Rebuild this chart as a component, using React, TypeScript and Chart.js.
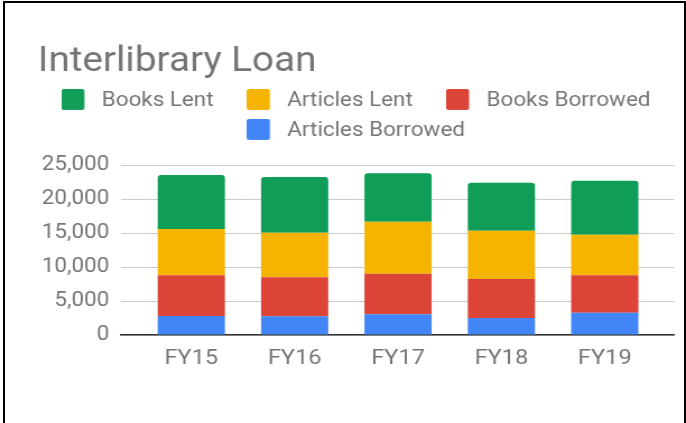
import React, { useEffect, useRef } from 'react';
import { Chart, registerables } from 'chart.js';

Chart.register(...registerables);

const categories = ['FY15', 'FY16', 'FY17', 'FY18', 'FY19'];
const articlesBorrowed = [2800, 2750, 3040, 2500, 3280];
const booksBorrowed = [5980, 5730, 5980, 5735, 5500];
const articlesLent = [6810, 6560, 7650, 7105, 5970];
const booksLent = [7940, 8190, 7110, 7060, 7940];
const yTickValues = [0, 5000, 10000, 15000, 20000, 25000];

const seriesNames = ['Articles Borrowed', 'Books Borrowed', 'Articles Lent', 'Books Lent'];
const seriesValues = [articlesBorrowed, booksBorrowed, articlesLent, booksLent];
const seriesColors = ['#4285f4', '#db4437', '#f4b400', '#0f9d58'];

const FONT = 'Roboto';
const TEXT = '#757575';
// the reference picture is slightly wider than tall in its text; draw at a
// narrower internal width and let the browser stretch it to 686px
const CANVAS_W = 612;
const CANVAS_H = 423;

function makeSwatch(color: string) {
  const c = document.createElement('canvas');
  c.width = 26;
  c.height = 25;
  const g = c.getContext('2d')!;
  g.fillStyle = color;
  g.beginPath();
  (g as any).roundRect(0, 0, 20.5, 21, 2);
  g.fill();
  return c;
}

const legendGap = {
  id: 'legendGap',
  beforeLayout(chart: any) {
    const leg = chart.legend;
    if (leg && !leg._gapPatched) {
      const fit = leg.fit;
      leg.fit = function () {
        fit.call(this);
        this.height += 13.6;
      };
      leg._gapPatched = true;
    }
  },
};

export default function App() {
  const ref = useRef<HTMLCanvasElement>(null);

  useEffect(() => {
    if (!ref.current) return;
    const chart = new Chart(ref.current, {
      type: 'bar',
      data: {
        datasets: seriesNames.map((name, i) => ({
          label: name,
          data: seriesValues[i].map((v, j) => ({ x: j, y: v })),
          backgroundColor: seriesColors[i],
          borderWidth: 0,
          borderRadius: i === seriesNames.length - 1 ? { topLeft: 3, topRight: 3, bottomLeft: 0, bottomRight: 0 } : 0,
          categoryPercentage: 0.65,
          barPercentage: 1,
        })),
      },
      plugins: [legendGap],
      options: {
        responsive: false,
        animation: false,
        devicePixelRatio: 1,
        events: [],
        layout: { padding: { left: 33.75, right: 10.7, top: 0, bottom: 0 } },
        plugins: {
          title: {
            display: true,
            text: 'Interlibrary Loan',
            align: 'start',
            color: TEXT,
            font: { family: FONT, size: 34.5, weight: 'normal', lineHeight: 0.9 },
            padding: { top: 46.6, bottom: 3.75 },
          },
          legend: {
            display: true,
            position: 'top',
            align: 'center',
            labels: {
              usePointStyle: true,
              pointStyleWidth: 26,
              padding: 10,
              color: TEXT,
              font: { family: FONT, size: 20 },
              generateLabels: (ch: any) => {
                const items = (Chart.defaults.plugins.legend.labels as any).generateLabels(ch);
                const ordered = items.slice().reverse();
                return ordered.map((it: any, k: number) => ({
                  ...it,
                  text: k < 2 ? it.text + '    ' : it.text,
                  pointStyle: makeSwatch(it.fillStyle as string),
                }));
              },
            },
          },
          tooltip: { enabled: false },
        },
        scales: {
          x: {
            type: 'linear',
            stacked: true,
            offset: false,
            min: -0.68,
            max: 4.67,
            afterBuildTicks: (scale: any) => {
              scale.ticks = categories.map((_, i) => ({ value: i }));
            },
            afterFit: (scale: any) => {
              scale.height = 88;
            },
            grid: { display: false, drawTicks: false, offset: false },
            border: { display: true, color: '#333333', width: 1.5 },
            ticks: {
              color: TEXT,
              padding: 11,
              font: { family: FONT, size: 21 },
              maxRotation: 0,
              autoSkip: false,
              callback: (v: any) => categories[Math.round(Number(v))] ?? '',
            },
          },
          y: {
            type: 'linear',
            stacked: true,
            min: 0,
            max: 25000,
            afterBuildTicks: (scale: any) => {
              scale.ticks = yTickValues.map((v) => ({ value: v }));
            },
            afterFit: (scale: any) => {
              scale.width = 74.2;
            },
            grid: { color: '#cccccc', lineWidth: 1, drawTicks: false },
            border: { display: false },
            ticks: {
              color: TEXT,
              padding: 10.5,
              font: { family: FONT, size: 20 },
              callback: (v: any) => Number(v).toLocaleString('en-US'),
            },
          },
        },
      } as any,
    });
    return () => chart.destroy();
  }, []);

  return (
    <div style={{ position: 'fixed', left: 0, top: 0, width: 686, height: 423, background: '#ffffff' }}>
      <canvas
        ref={ref}
        width={CANVAS_W}
        height={CANVAS_H}
        style={{ position: 'absolute', left: 0, top: 0, display: 'block', width: '686px', height: '423px' }}
      />
      <div
        style={{
          position: 'absolute',
          left: 3,
          top: 1,
          width: 683,
          height: 422,
          boxSizing: 'border-box',
          borderTop: '2px solid #000',
          borderLeft: '2px solid #000',
          borderRight: '2px solid #000',
          pointerEvents: 'none',
        }}
      />
    </div>
  );
}
